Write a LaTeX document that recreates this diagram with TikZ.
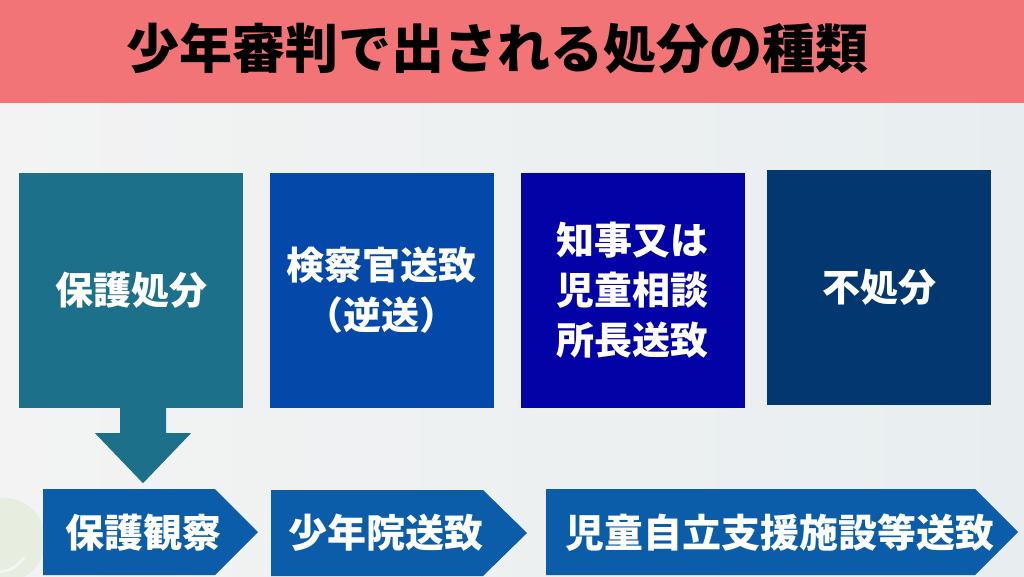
\documentclass[tikz,border=0pt]{standalone}
\usepackage{fontspec}
\setmainfont{Noto Sans CJK JP}
\usetikzlibrary{calc}

\definecolor{bandred}{HTML}{F37476}
\definecolor{bgleft}{HTML}{F3F3F3}
\definecolor{bgright}{HTML}{E8EEF0}
\definecolor{tealbox}{HTML}{1C7089}
\definecolor{bluebox}{HTML}{0449A9}
\definecolor{deepbox}{HTML}{0202A6}
\definecolor{navybox}{HTML}{03376F}
\definecolor{tagblue}{HTML}{0B5DAA}
\definecolor{logogreen}{HTML}{E8EEDF}

\begin{document}
\begin{tikzpicture}[x=1pt,y=-1pt,
    box/.style={fill=#1,text=white,minimum width=224pt,minimum height=235pt,
      align=center,inner sep=0pt,font=\fontsize{38}{50}\selectfont\bfseries},
    tag/.style={text=white,inner sep=0pt,font=\fontsize{39}{46}\selectfont\bfseries}]
        % Background
        \useasboundingbox (0,0) rectangle (1024,576);
        \shade[left color=bgleft,right color=bgright] (0,0) rectangle (1024,576);
        \fill[logogreen] (4,540) circle (42pt);
        \draw[white,opacity=0.5,line width=3pt] (-12,570) arc (250:330:30pt);

        % Title band
        \fill[bandred] (0,0) rectangle (1024,103);
        \node[font=\fontsize{53}{60}\selectfont\bfseries] (title) at (497,48) {少年審判で出される処分の種類};

        % Kinds of disposition
        \node[box=tealbox] (hogo) at (131,290.5) {保護処分};
        \node[box=bluebox] (gyakuso) at (381.5,290.5) {検察官送致\\（逆送）};
        \node[box=deepbox] (chiji) at (632.5,290.5) {知事又は\\児童相談\\所長送致};
        \node[box=navybox] (fusho) at (879,287.5) {不処分};

        % Arrow tags
        \fill[tagblue] (43,489) -- (215,489) -- (258,532) -- (215,575) -- (43,575) -- cycle;
        \fill[tagblue] (271,490) -- (483,490) -- (527,533) -- (483,576) -- (271,576) -- cycle;
        \fill[tagblue] (546,489) -- (975,489) -- (1018,532) -- (975,575) -- (546,575) -- cycle;
        \node[tag] (kansatsu) at (143,533) {保護観察};
        \node[tag] (shonenin) at (386,533) {少年院送致};
        \node[tag] (jiritsu) at (780,533) {児童自立支援施設等送致};

        % Down arrow
        \coordinate (dtop) at (hogo.south -| kansatsu.center);
        \fill[tealbox] ($(dtop)+(-23,-1)$) -- ($(dtop)+(-23,25)$) -- ($(dtop)+(-48,25)$)
          -- ($(dtop)+(0,75)$) -- ($(dtop)+(48,25)$) -- ($(dtop)+(23,25)$)
          -- ($(dtop)+(23,-1)$) -- cycle;
      \end{tikzpicture}
\end{document}
